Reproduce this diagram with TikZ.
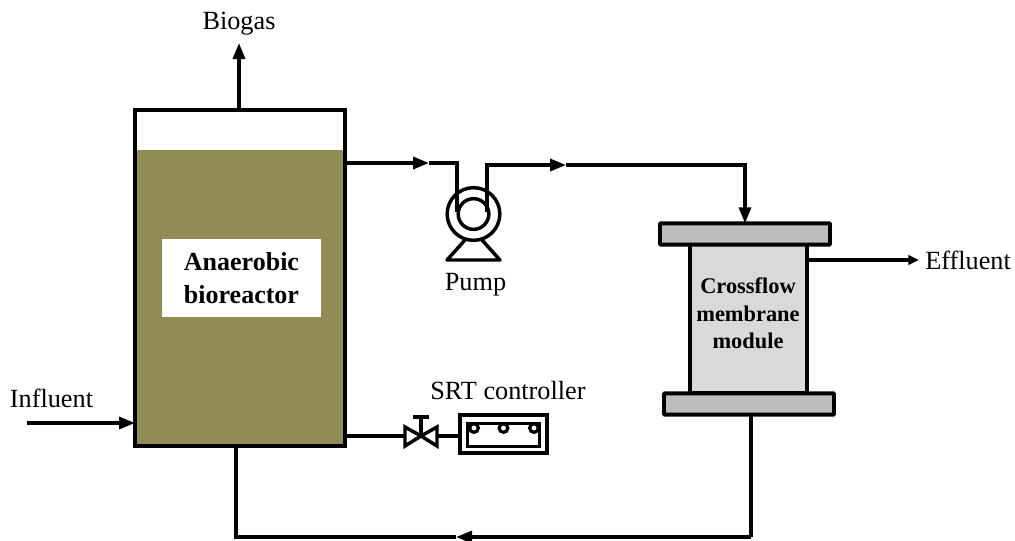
\documentclass[tikz,border=0pt]{standalone}
\usepackage{fontspec}
\setmainfont{Liberation Serif}
\definecolor{sludge}{HTML}{938B55}
\definecolor{flange}{HTML}{BDBDBD}
\definecolor{memb}{HTML}{D9D9D9}
\usetikzlibrary{arrows.meta,positioning,calc}
\tikzset{
  >={Triangle[length=12pt,width=9pt]},
  vessel/.style={draw,line width=2.9pt,inner sep=0pt,outer sep=0pt,align=center},
  flangebox/.style={vessel,fill=flange,rounded corners=0.5pt,minimum width=127.5pt,minimum height=16pt},
  ctrlbox/.style={draw,line width=2.6pt,inner sep=0pt,outer sep=0pt},
  lab/.style={font=\fontsize{19.7pt}{22pt}\selectfont,inner sep=0pt},
  blab/.style={align=center,font=\fontsize{19.5pt}{24.7pt}\selectfont\bfseries,inner sep=0pt},
  pipe/.style={draw,line width=2.6pt,line join=miter},
  thinpipe/.style={draw,line width=2.4pt},
  tiny dot/.style={circle,draw,line width=2.4pt,fill=white,minimum size=6.5pt,inner sep=0pt},
}
\begin{document}
\begin{tikzpicture}[x=0.75pt,y=-0.75pt]
\useasboundingbox (0,0) rectangle (1015,540);
% bioreactor
\node[fill=sludge,inner sep=0pt,minimum width=157.5pt,minimum height=222pt] (liquid) at (240,298) {};
\node[vessel,minimum width=157.5pt,minimum height=252pt] (reactor) at (240,278) {};
\node[fill=white,minimum width=119pt,minimum height=58.5pt,blab] (rlab) at (241.5,278) {Anaerobic\\bioreactor};
% membrane module
\node[vessel,fill=memb,minimum width=87.75pt,minimum height=111.75pt] (module) at (748.5,318.5) {};
\node[flangebox] (topfl) at (745,234) {};
\node[flangebox] (botfl) at (749,404) {};
\node[blab,font=\fontsize{16.8pt}{20.6pt}\selectfont\bfseries] (mlab) at (748,313.5) {Crossflow\\membrane\\module};
% pump
\node[circle,draw,line width=2.6pt,minimum size=39.5pt,inner sep=0pt] (pump) at (473.5,214) {};
\node[circle,draw,line width=2.6pt,minimum size=23pt,inner sep=0pt] (rotor) at (473.5,214) {};
\coordinate (footl) at (447,260);
\coordinate (footr) at (500,260);
\draw[pipe,line join=round] (465,240) -- (footl) -- (footr) -- (482,240);
\node[lab] (pumplab) at (475.5,285) {Pump};
% valve
\coordinate (vc) at (421,436);
\coordinate (vtop) at (421,417);
\draw[pipe] (vc) -- (405,427) -- (405,446) -- cycle;
\draw[pipe] (vc) -- (437,427) -- (437,446) -- cycle;
\draw[pipe] (vc) -- (vtop);
\draw[pipe,line width=3pt] (413,417) -- (429,417);
% controller
\node[ctrlbox,minimum width=65.5pt,minimum height=28.5pt] (ctrl) at (503.5,434) {};
\node[ctrlbox,minimum width=54pt,minimum height=17pt] (panel) at (503.5,435) {};
\node[tiny dot] (d1) at (474,428) {};
\node[tiny dot] (d2) at (503.5,428) {};
\node[tiny dot] (d3) at (534,428) {};
\node[lab] (srtlab) at (508,391) {SRT controller};
% labels
\node[lab] (biolab) at (239,24) {Biogas};
\node[lab] (inlab) at (51.5,398) {Influent};
\node[lab,anchor=west] (efflab) at (925,260) {Effluent};
% pipes
\coordinate (biotip) at (239,43);
\coordinate (intail) at (27,423);
\coordinate (efftip) at (919,260);
\coordinate (m1) at (429,163);
\coordinate (c1) at (457,163);
\coordinate (c2) at (457,212);
\coordinate (c3) at (487,212);
\coordinate (c4) at (487,165);
\coordinate (m2) at (566,165);
\coordinate (c5) at (745,165);
\coordinate (c6) at (236,537);
\coordinate (m3) at (456,537);
\coordinate (c7) at (751,537);
\draw[pipe,->] (reactor.north -| biotip) -- (biotip);
\draw[pipe,->] (intail) -- (intail -| reactor.west);
\draw[pipe,->] (reactor.east |- m1) -- (m1);
\draw[pipe] (m1) -- (c1) -- (c2);
\draw[pipe,->] (c3) -- (c4) -- (m2);
\draw[pipe,->] (m2) -- (c5) -- (topfl.north -| c5);
\draw[thinpipe,-{Triangle[length=8pt,width=7pt]}] (module.east |- efftip) -- (efftip);
\draw[pipe] (reactor.east |- 0,436) -- (405,436);
\draw[pipe] (437,436) -- (ctrl.west |- 0,436);
\draw[line width=2.9pt] (reactor.south -| c6) -- (c6) -- (m3);
\draw[thinpipe,->] (c7) -- (m3);
\draw[pipe] (c7) -- (botfl.south -| c7);
\end{tikzpicture}
\end{document}
